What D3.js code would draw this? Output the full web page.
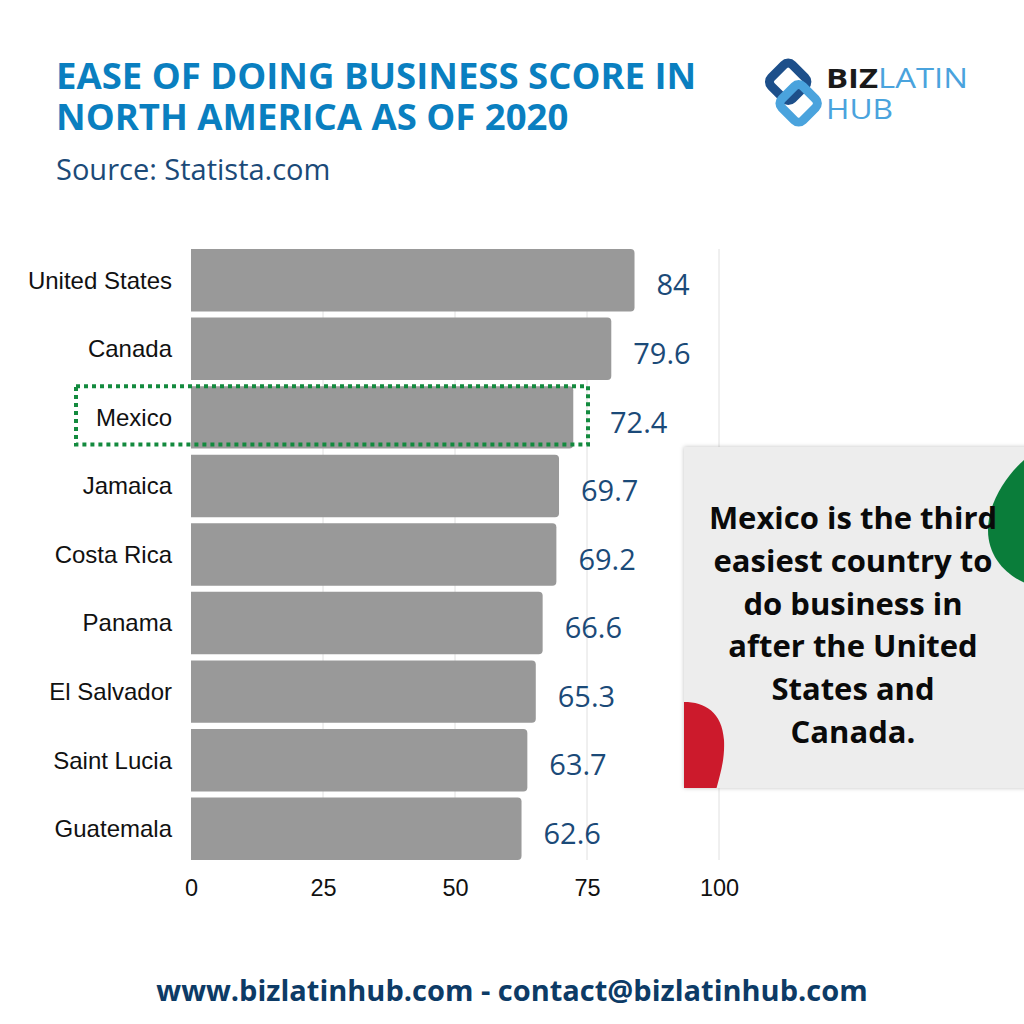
<!DOCTYPE html>
<html>
<head>
<meta charset="utf-8">
<script src="https://cdn.jsdelivr.net/npm/d3@7"></script>
<style>
  body { margin: 0; background: #fff; }
  svg { display: block; }
</style>
</head>
<body>
<svg id="chart" width="1024" height="1024"></svg>
<script>
// data
const countries = ["United States", "Canada", "Mexico", "Jamaica", "Costa Rica", "Panama", "El Salvador", "Saint Lucia", "Guatemala"];
const scores = [84, 79.6, 72.4, 69.7, 69.2, 66.6, 65.3, 63.7, 62.6];
const xTicks = [0, 25, 50, 75, 100];
const highlight = "Mexico";
const titleLines = ["EASE OF DOING BUSINESS SCORE IN", "NORTH AMERICA AS OF 2020"];
const calloutLines = ["Mexico is the third", "easiest country to", "do business in", "after the United", "States and", "Canada."];

const svg = d3.select("#chart");

// scales
const x = d3.scaleLinear().domain([0, 100]).range([191, 719]);
const y = d3.scaleBand().domain(countries).range([249, 860]).paddingInner(0.09).paddingOuter(0);

// gridlines
svg.append("g").selectAll("line")
  .data(xTicks.slice(1))
  .join("line")
  .attr("x1", d => x(d)).attr("x2", d => x(d))
  .attr("y1", 249).attr("y2", 860)
  .attr("stroke", "#e0e0e0").attr("stroke-width", 1);

// bars, rounded on the right end only
const r = 4;
svg.append("g").selectAll("path")
  .data(countries)
  .join("path")
  .attr("fill", "#999999")
  .attr("d", (c, i) => {
    const x0 = x(0), x1 = x(scores[i]), y0 = y(c), h = y.bandwidth();
    return `M${x0},${y0}H${x1 - r}Q${x1},${y0} ${x1},${y0 + r}V${y0 + h - r}Q${x1},${y0 + h} ${x1 - r},${y0 + h}H${x0}Z`;
  });

// category labels
svg.append("g").selectAll("text")
  .data(countries)
  .join("text")
  .attr("x", 172)
  .attr("y", c => y(c) + y.bandwidth() / 2)
  .attr("dy", "0.35em")
  .attr("text-anchor", "end")
  .attr("font-family", "Liberation Sans, Arial, sans-serif")
  .attr("font-size", 24)
  .attr("fill", "#111")
  .text(c => c);

// dotted highlight around Mexico
const boxRight = x(75) + 1;
svg.append("rect")
  .attr("x", 76)
  .attr("y", y(highlight))
  .attr("width", boxRight - 76)
  .attr("height", y.bandwidth() - 4)
  .attr("fill", "none")
  .attr("stroke", "#138a3e")
  .attr("stroke-width", 4)
  .attr("stroke-dasharray", "4,4");

// value labels (kept clear of the highlight box)
svg.append("g").selectAll("text")
  .data(countries)
  .join("text")
  .attr("x", (c, i) => c === highlight ? Math.max(x(scores[i]) + 22, boxRight + 22) : x(scores[i]) + 22)
  .attr("y", c => y(c) + y.bandwidth() / 2 + 5)
  .attr("dy", "0.35em")
  .attr("font-family", "Open Sans, sans-serif")
  .attr("font-size", 29)
  .attr("fill", "#1b4a78")
  .text((c, i) => String(scores[i]));

// x axis
const axis = svg.append("g")
  .attr("transform", "translate(0,879)")
  .call(d3.axisBottom(x).tickValues(xTicks).tickSize(0).tickPadding(0));
axis.select(".domain").remove();
axis.selectAll("text")
  .attr("font-family", "Liberation Sans, Arial, sans-serif")
  .attr("font-size", 23.5)
  .attr("fill", "#111");

// title
svg.append("g").selectAll("text")
  .data(titleLines)
  .join("text")
  .attr("x", 56)
  .attr("y", (d, i) => 89 + i * 41)
  .attr("font-family", "Open Sans, sans-serif")
  .attr("font-weight", 700)
  .attr("font-size", 36.5)
  .attr("fill", "#0a7fc0")
  .text(d => d);

svg.append("text")
  .attr("x", 56).attr("y", 180)
  .attr("font-family", "Open Sans, sans-serif")
  .attr("font-size", 29)
  .attr("fill", "#1b4a78")
  .text("Source: Statista.com");

// logo
const logo = svg.append("g");
const icon = logo.append("g").attr("transform", "translate(792,94)");
icon.append("rect").attr("x", -16).attr("y", -30).attr("width", 30).attr("height", 30).attr("rx", 6)
  .attr("transform", "rotate(45,-1,-15) translate(0,4)")
  .attr("fill", "none").attr("stroke", "#1d4f8a").attr("stroke-width", 9);
icon.append("rect").attr("x", -14).attr("y", 0).attr("width", 30).attr("height", 30).attr("rx", 6)
  .attr("transform", "rotate(45,1,15) translate(0,-8)")
  .attr("fill", "none").attr("stroke", "#4aa3dd").attr("stroke-width", 9);
const l1 = logo.append("text").attr("x", 826).attr("y", 88)
  .attr("font-family", "Open Sans, sans-serif").attr("font-size", 27)
  .attr("textLength", 142).attr("lengthAdjust", "spacingAndGlyphs");
l1.append("tspan").attr("font-weight", 700).attr("fill", "#1a1a1a").text("BIZ");
l1.append("tspan").attr("fill", "#4aa3dd").text("LATIN");
logo.append("text").attr("x", 826).attr("y", 119)
  .attr("font-family", "Open Sans, sans-serif").attr("font-size", 27)
  .attr("textLength", 67).attr("lengthAdjust", "spacingAndGlyphs")
  .attr("fill", "#4aa3dd").text("HUB");

// callout box
const defs = svg.append("defs");
const f = defs.append("filter").attr("id", "shadow").attr("x", "-10%").attr("y", "-10%").attr("width", "120%").attr("height", "120%");
f.append("feDropShadow").attr("dx", 0).attr("dy", 0).attr("stdDeviation", 2).attr("flood-color", "#000").attr("flood-opacity", 0.25);
defs.append("clipPath").attr("id", "boxclip")
  .append("rect").attr("x", 684).attr("y", 447).attr("width", 340).attr("height", 341);

svg.append("rect")
  .attr("x", 684).attr("y", 447).attr("width", 345).attr("height", 341)
  .attr("fill", "#ededed").attr("filter", "url(#shadow)");

const blobs = svg.append("g").attr("clip-path", "url(#boxclip)");
blobs.append("path")
  .attr("d", "M1030,455 C1010,470 988,500 988,530 C988,560 1010,578 1030,585 Z")
  .attr("fill", "#0a7d3a");
blobs.append("path")
  .attr("d", "M684,702 C705,702 722,712 724,740 C725,760 720,775 716,790 L684,790 Z")
  .attr("fill", "#cc1a2c");

svg.append("g").selectAll("text")
  .data(calloutLines)
  .join("text")
  .attr("x", 853)
  .attr("y", (d, i) => 529 + i * 42.8)
  .attr("text-anchor", "middle")
  .attr("font-family", "Open Sans, sans-serif")
  .attr("font-weight", 700)
  .attr("font-size", 31)
  .attr("fill", "#0a0a0a")
  .text(d => d);

// footer
svg.append("text")
  .attr("x", 512).attr("y", 1001)
  .attr("text-anchor", "middle")
  .attr("font-family", "Open Sans, sans-serif")
  .attr("font-weight", 700)
  .attr("font-size", 29)
  .attr("fill", "#0d3b66")
  .text("www.bizlatinhub.com - contact@bizlatinhub.com");
</script>
</body>
</html>
